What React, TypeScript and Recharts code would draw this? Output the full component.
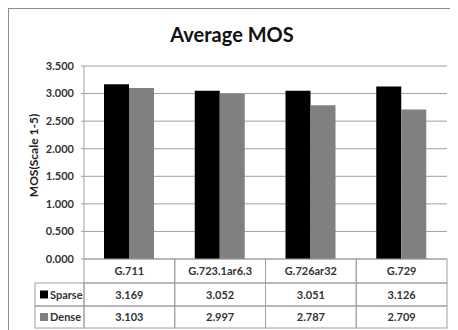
import React from "react";
import { BarChart, Bar, CartesianGrid, XAxis, YAxis } from "recharts";

const codecs = ["G.711", "G.723.1ar6.3", "G.726ar32", "G.729"];
const sparse = [3.169, 3.052, 3.051, 3.126];
const dense = [3.103, 2.997, 2.787, 2.709];
const yTicks = [0, 0.5, 1, 1.5, 2, 2.5, 3, 3.5];

const seriesNames = ["Sparse", "Dense"];
const seriesColors = ["#000000", "#808080"];

const FONT = "Lato, 'Liberation Sans', sans-serif";
const CHART_W = 446;
const CHART_H = 321;
const Y_AXIS_W = 75;
const MARGIN_R = 8;
const PLOT_W = CHART_W - Y_AXIS_W - MARGIN_R;
const ROWS = [24, 23, 22];
const LINE = "#a0a0a0";

const data = codecs.map((c, i) => ({ name: c, Sparse: sparse[i], Dense: dense[i] }));

// table under the plot, drawn from the x axis ticks
function TableTick(props: any) {
  const { x, y, payload, index } = props;
  const w = PLOT_W / codecs.length;
  const left = x - w / 2;
  const values = [sparse[index], dense[index]];
  let top = y;
  const cells: any[] = [];
  cells.push(
    <g key="cat">
      <rect x={left} y={top} width={w} height={ROWS[0]} fill="none" stroke={LINE} />
      <text x={x} y={top + ROWS[0] / 2 + 4} textAnchor="middle" fontSize={11} fontWeight="bold" fill="#333">
        {payload.value}
      </text>
    </g>
  );
  top += ROWS[0];
  values.forEach((v, r) => {
    cells.push(
      <g key={"v" + r}>
        <rect x={left} y={top} width={w} height={ROWS[r + 1]} fill="none" stroke={LINE} />
        <text x={x} y={top + ROWS[r + 1] / 2 + 4} textAnchor="middle" fontSize={11} fontWeight="bold" fill="#333">
          {v.toFixed(3)}
        </text>
      </g>
    );
    if (index === 0) {
      const lx = left - 49;
      cells.push(
        <g key={"l" + r}>
          <rect x={lx} y={top} width={49} height={ROWS[r + 1]} fill="none" stroke={LINE} />
          <rect x={lx + 5} y={top + ROWS[r + 1] / 2 - 4} width={8} height={8} fill={seriesColors[r]} />
          <text x={lx + 15} y={top + ROWS[r + 1] / 2 + 4} fontSize={11} fontWeight="bold" fill="#333">
            {seriesNames[r]}
          </text>
        </g>
      );
    }
    top += ROWS[r + 1];
  });
  return <g>{cells}</g>;
}

function YLabel(props: any) {
  const vb = props.viewBox || { x: 0, y: 57, height: 193 };
  const cx = vb.x + 24;
  const cy = vb.y + vb.height / 2 - 7;
  return (
    <text
      x={cx}
      y={cy}
      transform={`rotate(-90 ${cx} ${cy})`}
      textAnchor="middle"
      dominantBaseline="central"
      fontSize={12}
      fontWeight="bold"
      fill="#222"
    >
      MOS(Scale 1-5)
    </text>
  );
}

export default function App() {
  return (
    <div
      style={{
        position: "relative",
        width: 446,
        height: 328,
        border: "1px solid #8c8c8c",
        background: "#fff",
        fontFamily: FONT,
      }}
    >
      <div
        style={{
          position: "absolute",
          left: 0,
          right: 0,
          top: 13,
          textAlign: "center",
          fontSize: 20,
          fontWeight: "bold",
          color: "#111",
        }}
      >
        Average MOS
      </div>
      <BarChart
        width={CHART_W}
        height={CHART_H}
        data={data}
        margin={{ top: 57, right: MARGIN_R, bottom: 2, left: 0 }}
        barSize={25}
        barGap={0}
        style={{ fontFamily: FONT }}
      >
        <CartesianGrid vertical={false} stroke={LINE} />
        <YAxis
          width={Y_AXIS_W}
          domain={[0, 3.5]}
          ticks={yTicks}
          tickFormatter={(v: number) => v.toFixed(3)}
          axisLine={{ stroke: LINE }}
          tickLine={{ stroke: LINE }}
          tickSize={3}
          tickMargin={7}
          tick={{ fontSize: 11, fontWeight: "bold", fill: "#333" }}
          label={<YLabel />}
        />
        <XAxis
          dataKey="name"
          height={69}
          axisLine={false}
          tickLine={false}
          tickSize={0}
          tickMargin={0}
          interval={0}
          tick={<TableTick />}
        />
        <Bar dataKey="Sparse" fill={seriesColors[0]} isAnimationActive={false} />
        <Bar dataKey="Dense" fill={seriesColors[1]} isAnimationActive={false} />
      </BarChart>
    </div>
  );
}
